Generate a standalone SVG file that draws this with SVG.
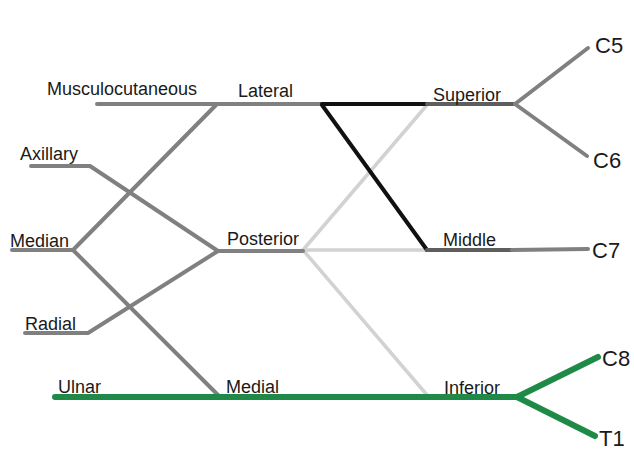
<svg xmlns="http://www.w3.org/2000/svg" width="634" height="450" viewBox="0 0 634 450">
<style>
text{font-family:"Liberation Sans",Arial,sans-serif;font-size:18px;fill:#1a1a1a}
.big{font-size:22px}
line,polyline{fill:none;stroke-linecap:round;stroke-linejoin:round}
.g{stroke:#808080;stroke-width:4}
.lg{stroke:#d2d2d2;stroke-width:3.5}
.dk{stroke:#5e5e5e;stroke-width:4}
.bk{stroke:#111;stroke-width:4}
.gr{stroke:#1f8a48;stroke-width:6}
</style>
<rect width="634" height="450" fill="#fff"/>
<g id="connectors">
<line class="lg" x1="303" y1="250" x2="427" y2="105"/>
<line class="lg" x1="303" y1="250" x2="427" y2="250"/>
<line class="lg" x1="303" y1="250" x2="427" y2="395"/>
<line class="g" x1="97" y1="104" x2="322" y2="104"/>
<line class="g" x1="217" y1="104" x2="73" y2="250"/>
<polyline class="g" points="31,166 90,166 218,251"/>
<line class="g" x1="12" y1="250" x2="73" y2="250"/>
<line class="g" x1="73" y1="250" x2="218" y2="395"/>
<polyline class="g" points="25,333 88,333 218,251"/>
<line class="g" x1="218" y1="251" x2="303" y2="251"/>
<line class="bk" x1="322" y1="104" x2="427" y2="104"/>
<line class="bk" x1="322" y1="105" x2="427" y2="250"/>
<line class="dk" x1="427" y1="104" x2="515" y2="104"/>
<line class="g" x1="515" y1="104" x2="588" y2="48"/>
<line class="g" x1="515" y1="104" x2="587" y2="156"/>
<line class="dk" x1="427" y1="250" x2="512" y2="250"/>
<line class="g" x1="512" y1="250" x2="588" y2="249"/>
<line class="gr" x1="55" y1="397" x2="517" y2="397"/>
<line class="gr" x1="517" y1="397" x2="598" y2="357"/>
<line class="gr" x1="517" y1="397" x2="595" y2="436"/>
</g>
<g id="musculocutaneous"><text x="47" y="95">Musculocutaneous</text></g>
<g id="axillary"><text x="20" y="160">Axillary</text></g>
<g id="median"><text x="10" y="247">Median</text></g>
<g id="radial"><text x="25" y="330">Radial</text></g>
<g id="ulnar"><text x="58" y="393">Ulnar</text></g>
<g id="lateral"><text x="238" y="97">Lateral</text></g>
<g id="posterior"><text x="227" y="245">Posterior</text></g>
<g id="medial"><text x="226" y="393">Medial</text></g>
<g id="superior"><text x="433" y="101">Superior</text></g>
<g id="middle"><text x="443" y="246">Middle</text></g>
<g id="inferior"><text x="444" y="394">Inferior</text></g>
<g id="c5"><text class="big" x="595" y="53">C5</text></g>
<g id="c6"><text class="big" x="593" y="168">C6</text></g>
<g id="c7"><text class="big" x="592" y="258">C7</text></g>
<g id="c8"><text class="big" x="602" y="366">C8</text></g>
<g id="t1"><text class="big" x="599" y="446">T1</text></g>
</svg>
